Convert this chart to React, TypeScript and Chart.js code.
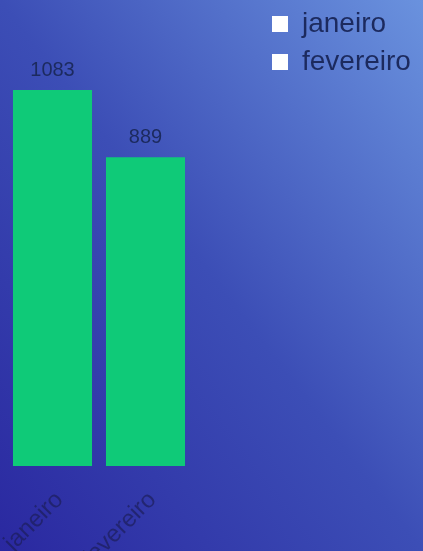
import React, { useEffect, useRef } from "react";
import { Chart, registerables } from "chart.js";

Chart.register(...registerables);

const categories = ["janeiro", "fevereiro"];
const values = [1083, 889];
const yMax = 1342;

const TEXT = "#1c2a5e";
const BAR = "#0fca78";
const LEGEND_WIDTH = 161;

const valueLabels = {
  id: "valueLabels",
  afterDatasetsDraw(chart: any) {
    const ctx = chart.ctx;
    ctx.save();
    ctx.font = "20px 'Liberation Sans', Arial, sans-serif";
    ctx.fillStyle = TEXT;
    ctx.textAlign = "center";
    ctx.textBaseline = "alphabetic";
    chart.getDatasetMeta(0).data.forEach((bar: any, i: number) => {
      ctx.fillText(String(values[i]), bar.x, bar.y - 14);
    });
    ctx.restore();
  },
};

const legendWidthFix = {
  id: "legendWidthFix",
  beforeLayout(chart: any) {
    const lg = chart.legend;
    if (lg && !lg.__patched) {
      const orig = lg.fit.bind(lg);
      lg.fit = function () {
        orig();
        this.width = LEGEND_WIDTH;
      };
      lg.__patched = true;
    }
  },
};

export default function App() {
  const ref = useRef<HTMLCanvasElement>(null);
  useEffect(() => {
    if (!ref.current) return;
    const chart = new Chart(ref.current, {
      type: "bar",
      data: {
        labels: categories,
        datasets: [
          {
            label: "valores",
            data: values,
            backgroundColor: BAR,
            borderWidth: 0,
            categoryPercentage: 1,
            barPercentage: 0.85,
          },
        ],
      },
      options: {
        animation: false,
        responsive: true,
        maintainAspectRatio: false,
        layout: { padding: { left: 6, right: 0, top: 0, bottom: 0 } },
        plugins: {
          tooltip: { enabled: false },
          legend: {
            position: "right",
            align: "start",
            labels: {
              boxWidth: 16,
              boxHeight: 16,
              padding: 10,
              color: TEXT,
              font: { size: 28, family: "'Liberation Sans', Arial, sans-serif" },
              generateLabels: () =>
                categories.map((c, i) => ({
                  text: c,
                  fillStyle: "#ffffff",
                  strokeStyle: "#ffffff",
                  lineWidth: 0,
                  hidden: false,
                  index: i,
                  datasetIndex: 0,
                  fontColor: TEXT,
                })),
            },
          },
        },
        scales: {
          x: {
            grid: { display: false },
            border: { display: false },
            ticks: {
              color: "rgba(28,30,90,0.7)",
              font: { size: 24, family: "'Liberation Sans', Arial, sans-serif" },
              minRotation: 45,
              maxRotation: 45,
              padding: 12,
              labelOffset: 7,
            },
            afterFit: (s: any) => {
              s.height = 85;
              s.paddingLeft = 0;
              s.paddingRight = 0;
            },
          },
          y: {
            display: false,
            min: 0,
            max: yMax,
          },
          yR: {
            position: "right",
            display: true,
            grid: { display: false },
            border: { display: false },
            ticks: { display: false },
            afterFit: (s: any) => {
              s.width = 70;
            },
          },
        },
      },
      plugins: [valueLabels, legendWidthFix],
    });
    return () => chart.destroy();
  }, []);

  return (
    <div
      style={{
        position: "fixed",
        left: 0,
        top: 0,
        width: "100vw",
        height: "100vh",
        background:
          "linear-gradient(to top right, #2a28a0 0%, #3c4eb6 50%, #6a92de 100%)",
      }}
    >
      <canvas ref={ref} />
    </div>
  );
}
